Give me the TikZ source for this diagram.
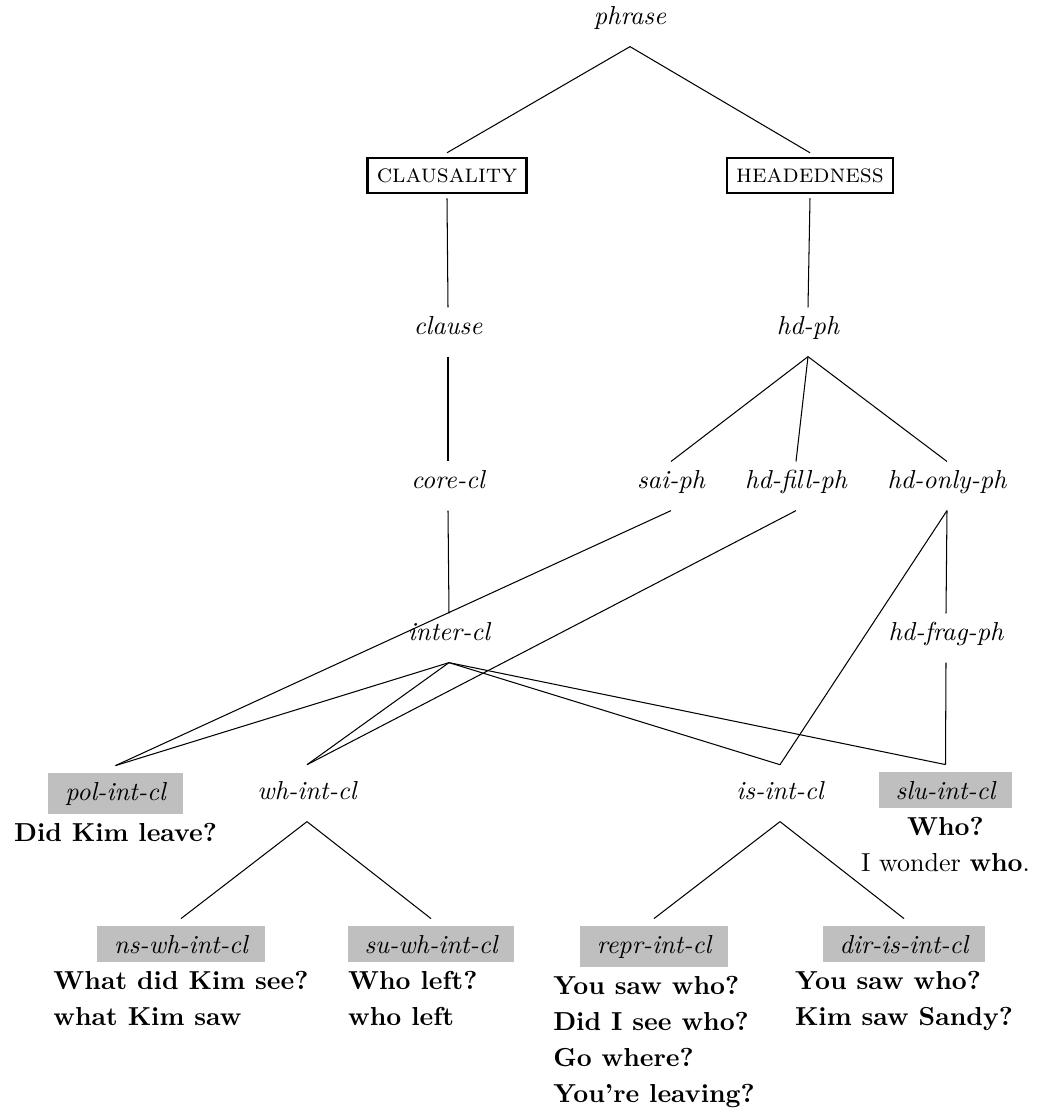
\documentclass[tikz,border=0pt]{standalone}
\definecolor{boxgray}{RGB}{191,191,191}
\begin{document}
\begin{tikzpicture}[x=0.3846pt,y=-0.3846pt,
  lbl/.style={anchor=base,inner sep=0pt,text height=10pt,text depth=8.5pt,font=\itshape},
  lbltall/.style={lbl,text height=13pt},
  gbox/.style={anchor=base,fill=boxgray,inner xsep=6.5pt,inner ysep=3.3pt,outer xsep=0pt,outer ysep=3pt,font=\itshape},
  featbox/.style={draw,line width=1pt,inner xsep=3.5pt,inner ysep=0pt,minimum height=13.5pt,outer sep=2pt,font=\scshape},
  ex/.style={inner sep=0pt,font=\bfseries\fontsize{10pt}{13.8pt}\selectfont},
  edge/.style={line width=0.4pt}]
\useasboundingbox (0,0) rectangle (1037,1113);
% nodes
\node[lbl] (phrase) at (630,24) {phrase};
\node[featbox] (claus) at (447,175.5) {clausality};
\node[featbox] (head) at (810,175.5) {headedness};
\node[lbl] (clause) at (448,334) {clause};
\node[lbl] (hdph) at (808,334) {hd-ph};
\node[lbl] (corecl) at (448,488) {core-cl};
\node[lbl] (saiph) at (671,488) {sai-ph};
\node[lbl] (hdfill) at (796,488) {hd-fill-ph};
\node[lbl] (hdonly) at (947,488) {hd-only-ph};
\node[lbl] (intercl) at (449,640) {inter-cl};
\node[lbl] (hdfrag) at (946,640) {hd-frag-ph};
\node[gbox] (pol) at (115.5,800) {pol-int-cl};
\node[lbltall] (wh) at (307,799) {wh-int-cl};
\node[lbltall] (is) at (780,799) {is-int-cl};
\node[gbox] (slu) at (945.5,799) {slu-int-cl};
\node[gbox] (ns) at (181,953) {ns-wh-int-cl};
\node[gbox] (su) at (431,953) {su-wh-int-cl};
\node[gbox] (repr) at (654,953) {repr-int-cl};
\node[gbox] (dir) at (904,953) {dir-is-int-cl};
% example sentences
\node[ex,anchor=north] (polex) at ([yshift=-0.6pt]pol.south) {Did Kim leave?};
\node[ex,anchor=north,align=center] (sluex) at ([yshift=-0.6pt]slu.south) {Who?\\{\mdseries I wonder \textbf{who}.}};
\node[ex,anchor=north,align=left] (nsex) at ([yshift=-0.6pt]ns.south) {What did Kim see?\\what Kim saw};
\node[ex,anchor=north west,align=left] (suex) at ([yshift=-0.6pt]su.south west) {Who left?\\who left};
\node[ex,anchor=north,align=left] (reprex) at ([yshift=-0.6pt]repr.south) {You saw who?\\Did I see who?\\Go where?\\You're leaving?};
\node[ex,anchor=north,align=left] (direx) at ([yshift=-0.6pt]dir.south) {You saw who?\\Kim saw Sandy?};
% connectors
\draw[edge] (phrase.south) -- (claus.north);
\draw[edge] (phrase.south) -- (head.north);
\draw[edge] (claus.south) -- (clause.north);
\draw[edge] (head.south) -- (hdph.north);
\draw[edge] (clause.south) -- (corecl.north);
\draw[edge] (hdph.south) -- (saiph.north);
\draw[edge] (hdph.south) -- (hdfill.north);
\draw[edge] (hdph.south) -- (hdonly.north);
\draw[edge] (corecl.south) -- (intercl.north);
\draw[edge] (hdonly.south) -- (hdfrag.north);
\draw[edge] (intercl.south) -- (pol.north);
\draw[edge] (intercl.south) -- (wh.north);
\draw[edge] (intercl.south) -- (is.north);
\draw[edge] (intercl.south) -- (slu.north);
\draw[edge] (saiph.south) -- (pol.north);
\draw[edge] (hdfill.south) -- (wh.north);
\draw[edge] (hdonly.south) -- (is.north);
\draw[edge] (hdfrag.south) -- (slu.north);
\draw[edge] (wh.south) -- (ns.north);
\draw[edge] (wh.south) -- (su.north);
\draw[edge] (is.south) -- (repr.north);
\draw[edge] (is.south) -- (dir.north);
\end{tikzpicture}
\end{document}
